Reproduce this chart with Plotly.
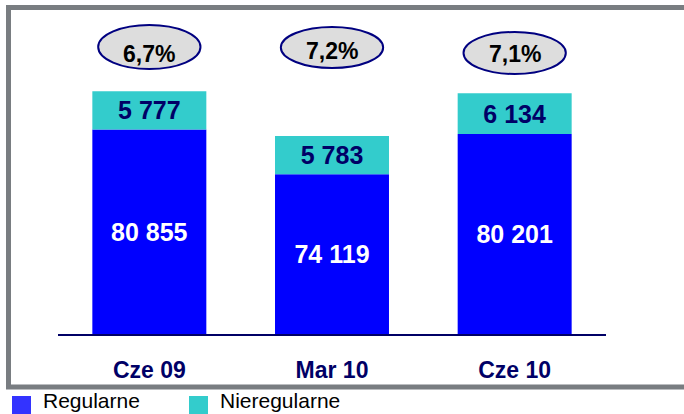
import plotly.graph_objects as go

# dane
okresy = ["Cze 09", "Mar 10", "Cze 10"]
regularne = [80855, 74119, 80201]
nieregularne = [5777, 5783, 6134]
udzial = ["6,7%", "7,2%", "7,1%"]
nazwy = ["Regularne", "Nieregularne"]

Y_MIN = 50000  # os nie startuje od zera
Y_MAX = 98900

# obszar wykresu w pikselach
PL, PR, PT, PB = 58, 606, 10, 334
W, H = PR - PL, PB - PT


def px_x(p):
    return (p - PL) / W


def px_y(p):
    return (PB - p) / H


def fmt(v):
    return f"{v:,}".replace(",", " ")


FONT = "Liberation Sans, Arial, sans-serif"
idx = list(range(len(okresy)))

fig = go.Figure()
fig.add_trace(go.Bar(
    x=idx, y=[v - Y_MIN for v in regularne], base=[Y_MIN] * len(regularne),
    name=nazwy[0], marker=dict(color="#0000ff", line=dict(width=0)),
    text=[fmt(v) for v in regularne], textposition="inside",
    insidetextanchor="middle",
    textfont=dict(family=FONT, size=25, color="white", weight="bold"),
))
fig.add_trace(go.Bar(
    x=idx, y=nieregularne, base=regularne,
    name=nazwy[1], marker=dict(color="#33cccc", line=dict(width=0)),
    text=[fmt(v) for v in nieregularne], textposition="inside",
    insidetextanchor="middle",
    textfont=dict(family=FONT, size=25, color="#000066", weight="bold"),
))

# elipsy z udzialem procentowym
ell_top = [25, 27, 32]
ell_bot = [69, 68, 74]
pct_y = [54, 51, 54]
shapes = []
annotations = []
for i, t in enumerate(udzial):
    shapes.append(dict(type="circle", xref="x", yref="paper",
                       x0=i - 0.28, x1=i + 0.28,
                       y0=px_y(ell_bot[i]), y1=px_y(ell_top[i]),
                       fillcolor="#dddddd", line=dict(color="#000080", width=2),
                       layer="above"))
    annotations.append(dict(x=i, y=px_y(pct_y[i]), xref="x", yref="paper",
                            text=t, showarrow=False, yanchor="middle",
                            font=dict(family=FONT, size=23, color="black",
                                      weight="bold")))

# szara ramka
shapes.append(dict(type="rect", xref="paper", yref="paper",
                   x0=px_x(8.5), x1=px_x(700), y0=px_y(387), y1=px_y(7.5),
                   line=dict(color="#797d81", width=5), layer="below"))

# legenda pod ramka (kwadraty wieksze niz w legendzie plotly)
leg_kolory = ["#3333ff", "#33cccc"]
leg_x = [12, 189]
for i, n in enumerate(nazwy):
    shapes.append(dict(type="rect", xref="paper", yref="paper",
                       x0=px_x(leg_x[i]), x1=px_x(leg_x[i] + 19),
                       y0=px_y(414), y1=px_y(396),
                       fillcolor=leg_kolory[i], line=dict(width=0)))
    annotations.append(dict(x=px_x(leg_x[i] + 29), y=px_y(414),
                            xref="paper", yref="paper", text=n,
                            showarrow=False, xanchor="left", yanchor="bottom",
                            font=dict(family=FONT, size=21, color="black")))

fig.update_layout(
    width=684, height=414,
    margin=dict(l=PL, r=684 - PR, t=PT, b=414 - PB, autoexpand=False),
    paper_bgcolor="white", plot_bgcolor="white",
    barmode="overlay", bargap=0.376,
    shapes=shapes, annotations=annotations,
    showlegend=False,
    xaxis=dict(tickmode="array", tickvals=idx, ticktext=okresy,
               range=[-0.5, 2.5], showgrid=False, zeroline=False,
               showline=True, linecolor="#000066", linewidth=2,
               ticks="outside", ticklen=14, tickcolor="rgba(0,0,0,0)",
               tickfont=dict(family=FONT, size=23, color="#000066",
                             weight="bold")),
    yaxis=dict(range=[Y_MIN, Y_MAX], visible=False),
)

fig.write_html("out.html", config={"displayModeBar": False},
               post_script="document.body.style.margin='0';"
                           "document.body.style.overflow='hidden';")
